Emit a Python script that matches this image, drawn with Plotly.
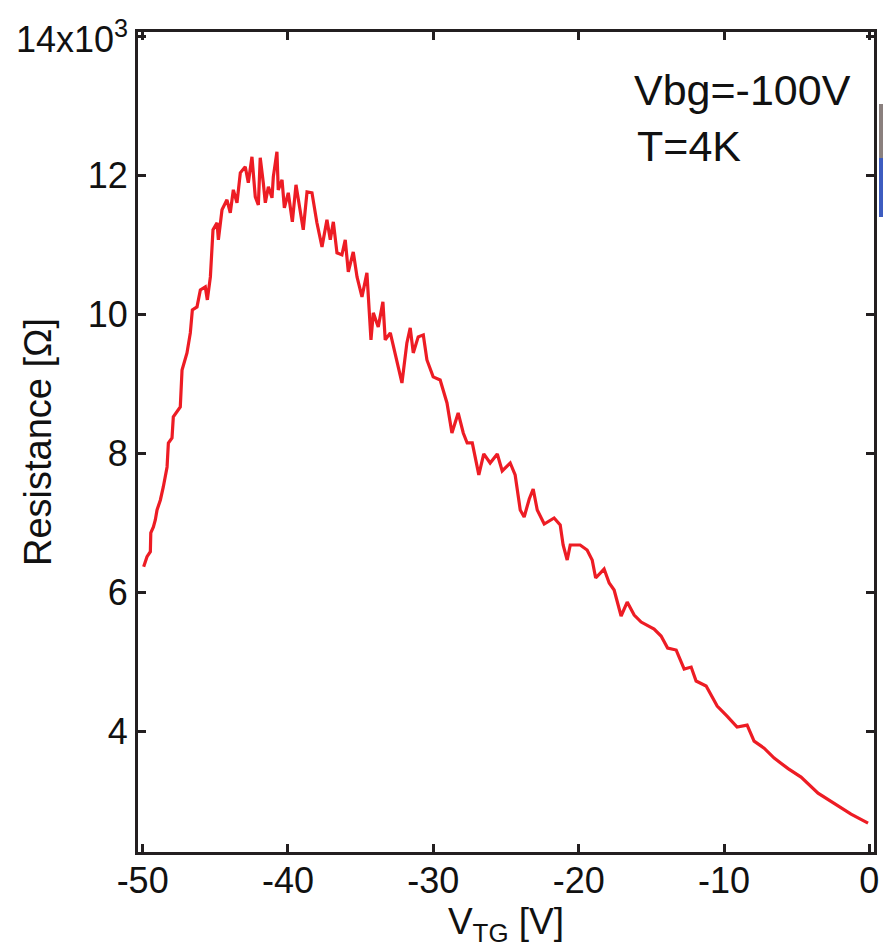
import plotly.graph_objects as go

# Top-gate voltage (V)
v_tg = [-49.93, -49.70, -49.47, -49.44, -49.26, -49.13, -49.01, -48.78, -48.58, -48.32,
        -48.23, -47.98, -47.89, -47.41, -47.29, -46.95, -46.72, -46.58, -46.26, -46.03,
        -45.69, -45.55, -45.34, -45.16, -44.88, -44.79, -44.54, -44.20, -43.97, -43.76,
        -43.51, -43.28, -42.94, -42.73, -42.48, -42.25, -42.04, -41.91, -41.70, -41.56,
        -41.35, -41.10, -41.01, -40.76, -40.67, -40.41, -40.25, -39.98, -39.70, -39.45,
        -39.15, -38.95, -38.69, -38.35, -38.01, -37.66, -37.32, -37.09, -36.88, -36.63,
        -36.29, -36.06, -35.85, -35.51, -35.25, -34.91, -34.57, -34.48, -34.29, -34.13,
        -33.79, -33.47, -33.31, -32.96, -32.62, -32.16, -31.82, -31.59, -31.38, -31.04,
        -30.69, -30.44, -30.01, -29.53, -29.06, -28.72, -28.29, -27.94, -27.67, -27.32,
        -26.87, -26.53, -26.09, -25.60, -25.26, -24.71, -24.37, -24.02, -23.75, -23.40,
        -23.13, -22.85, -22.37, -21.69, -21.27, -21.07, -20.79, -20.58, -19.90, -19.42,
        -19.07, -18.83, -18.25, -17.90, -17.56, -17.08, -16.66, -16.18, -15.70, -14.81,
        -14.33, -13.88, -13.29, -12.74, -12.26, -11.92, -11.23, -10.47, -9.79, -9.10,
        -8.41, -7.93, -7.24, -6.55, -5.59, -4.70, -3.53, -2.39, -1.26, -0.09]

# Resistance (Ohm)
resistance = [6375, 6519, 6591, 6861, 6947, 7048, 7192, 7336, 7523, 7811,
              8156, 8228, 8531, 8675, 9207, 9452, 9740, 10071, 10114, 10359,
              10402, 10215, 10546, 11223, 11324, 11079, 11511, 11655, 11468, 11799,
              11612, 12044, 12130, 11900, 12274, 11698, 11583, 12260, 11900, 11612,
              11842, 11684, 11986, 12346, 11799, 11943, 11540, 11756, 11338, 11871,
              11482, 11223, 11770, 11756, 11324, 10978, 11367, 11079, 11338, 10892,
              10863, 11079, 10618, 10906, 10546, 10258, 10604, 10258, 9639, 10028,
              9826, 10186, 9639, 9740, 9452, 9020, 9596, 9812, 9452, 9683,
              9711, 9351, 9107, 9063, 8732, 8300, 8588, 8300, 8156, 8156,
              7696, 7998, 7868, 7998, 7753, 7868, 7696, 7192, 7091, 7350,
              7494, 7192, 6990, 7077, 6976, 6688, 6472, 6688, 6688, 6616,
              6472, 6213, 6342, 6141, 6040, 5666, 5867, 5680, 5579, 5479,
              5378, 5205, 5176, 4903, 4931, 4730, 4658, 4370, 4226, 4068,
              4096, 3866, 3765, 3621, 3470, 3348, 3117, 2966, 2815, 2686]

x_ticks = [-50, -40, -30, -20, -10, 0]
x_tick_text = ["-50", "-40", "-30", "-20", "-10", "0"]
y_ticks = [4000, 6000, 8000, 10000, 12000, 14000]
y_tick_text = ["4", "6", "8", "10", "12", ""]
y_top_label = "14x10<sup>3</sup>"

annotation_lines = ["Vbg=-100V", "T=4K"]

FONT = "Liberation Sans, Arial, sans-serif"
AX = "#231f20"
TXT = "#111111"

W, H = 883, 948
ML, MR, MT, MB = 138, 9, 32, 96
PW = W - ML - MR
PH = H - MT - MB

fig = go.Figure()
fig.add_trace(go.Scatter(x=v_tg, y=resistance, mode="lines",
                         line=dict(color="#ed1c24", width=3.2), showlegend=False))

axis_common = dict(showline=True, linecolor=AX, linewidth=3, mirror="ticks",
                   ticks="inside", ticklen=8, tickwidth=2.5, tickcolor=AX,
                   showgrid=False, zeroline=False, automargin=False,
                   tickfont=dict(family=FONT, size=36, color=TXT))

fig.update_xaxes(range=[-50.32, 0.32], tickvals=x_ticks, ticktext=x_tick_text,
                 ticklabelstandoff=-5,
                 title=dict(text="V<sub>TG</sub> [V]", font=dict(family=FONT, size=37, color=TXT),
                            standoff=2),
                 **axis_common)
fig.update_yaxes(range=[2270, 14070], tickvals=y_ticks, ticktext=y_tick_text,
                 title=dict(text="Resistance [Ω]", font=dict(family=FONT, size=38, color=TXT),
                            standoff=25),
                 **axis_common)

# top y tick label with exponent
fig.add_annotation(text=y_top_label, xref="paper", yref="y", x=-8 / PW, y=14000,
                   xanchor="right", yanchor="middle", showarrow=False,
                   font=dict(family=FONT, size=36, color=TXT))

fig.add_annotation(text=annotation_lines[0], xref="paper", yref="paper",
                   x=(632 - 138) / PW, y=(852 - 90) / PH, xanchor="left", yanchor="middle",
                   showarrow=False, font=dict(family=FONT, size=43, color=TXT))
fig.add_annotation(text=annotation_lines[1], xref="paper", yref="paper",
                   x=(635 - 138) / PW, y=(852 - 146) / PH, xanchor="left", yanchor="middle",
                   showarrow=False, font=dict(family=FONT, size=43, color=TXT))

# edge fragments of a neighbouring panel at the right border
for top, bot, col in [(104, 158, "#8a807e"), (158, 217, "#3d5cc0")]:
    fig.add_shape(type="rect", xref="paper", yref="paper",
                  x0=(879 - 138) / PW, x1=(883 - 138) / PW,
                  y0=(852 - bot) / PH, y1=(852 - top) / PH,
                  fillcolor=col, line_width=0, layer="above")

fig.update_layout(width=W, height=H, margin=dict(l=ML, r=MR, t=MT, b=MB),
                  plot_bgcolor="white", paper_bgcolor="white")

fig.write_html("out.html", config={"displayModeBar": False},
               post_script="document.body.style.margin='0';document.body.style.overflow='hidden';"
                           "document.documentElement.style.overflow='hidden';")
